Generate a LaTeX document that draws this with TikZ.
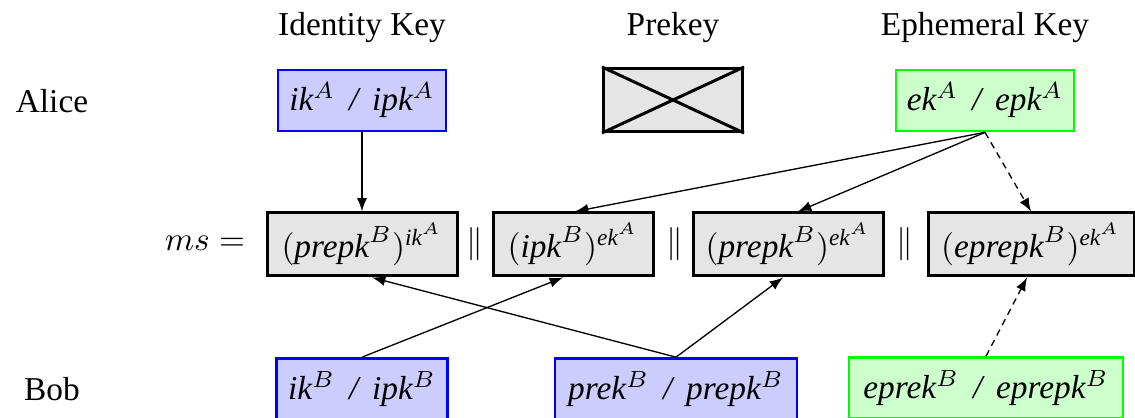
\documentclass[tikz,border=0pt]{standalone}
\usepackage{amsmath}
\usepackage{fontspec}
\setmainfont{Liberation Serif}
\usetikzlibrary{arrows}

\newcommand{\kv}[1]{\textit{#1}}
\newcommand{\sep}{~\,/~\,}

\begin{document}
\begin{tikzpicture}[x=0.3pt,y=-0.3pt,>=latex,
    idkey/.style={draw=blue,fill=blue!20,line width=0.8pt,minimum height=18.3pt,inner sep=2pt},
    ephkey/.style={draw=green,fill=green!20,line width=0.8pt,minimum height=18.3pt,inner sep=2pt},
    part/.style={draw=black,fill=gray!20,line width=0.9pt,minimum height=18.9pt,inner sep=2pt},
    nokey/.style={draw=black,fill=gray!20,line width=0.9pt,minimum height=18.9pt},
    link/.style={->,thin},
    maybe/.style={->,thin,dash pattern=on 2pt off 1.5pt}]

    \useasboundingbox (0,0) rectangle (1135,418);

    % column and row titles
    \node (hid) at (362,28) {Identity Key};
    \node (hpre) at (673,28) {Prekey};
    \node (heph) at (985,28) {Ephemeral Key};
    \node (alice) at (52,101) {Alice};
    \node (bob) at (52,389) {Bob};

    % Alice
    \node[idkey,minimum width=50.4pt] (ikA) at (362,100.5) {\textit{ik$^A$\sep ipk$^A$}};
    \node[nokey,minimum width=41.7pt] (preA) at (673,100) {};
    \draw[line width=0.9pt] (preA.north west) -- (preA.south east);
    \draw[line width=0.9pt] (preA.south west) -- (preA.north east);
    \node[ephkey,minimum width=53.4pt] (ekA) at (985,100.5) {\textit{ek$^A$\sep epk$^A$}};

    % master secret
    \node (ms) at (205,243) {$ms =$};
    \node[part,minimum width=57pt] (dh1) at (362,244.5) {$(\kv{prepk}^B)^{\kv{ik}^A}$};
    \node (cat1) at (475,244.5) {$\|$};
    \node[part,minimum width=48pt] (dh2) at (573,244.5) {$(\kv{ipk}^B)^{\kv{ek}^A}$};
    \node (cat2) at (675,244.5) {$\|$};
    \node[part,minimum width=57pt] (dh3) at (788,244.5) {$(\kv{prepk}^B)^{\kv{ek}^A}$};
    \node (cat3) at (905,244.5) {$\|$};
    \node[part,minimum width=61.8pt] (dh4) at (1031,244.5) {$(\kv{eprepk}^B)^{\kv{ek}^A}$};

    % Bob
    \node[idkey,minimum width=51.3pt] (ikB) at (362,389) {\textit{ik$^B$\sep ipk$^B$}};
    \node[idkey,minimum width=72.6pt] (prekB) at (676,389) {\textit{prek$^B$\sep prepk$^B$}};
    \node[ephkey,minimum width=82.2pt] (eprekB) at (986,388) {\textit{eprek$^B$\sep eprepk$^B$}};

    % who feeds which part
    \draw[link] (ikA) -- (dh1);
    \draw[link] (ekA.south) -- ([xshift=0.6pt]dh2.north);
    \draw[link] (ekA.south) -- ([xshift=3pt]dh3.north);
    \draw[maybe] (ekA.south) -- (dh4.north);
    \draw[link] (ikB.north) -- ([xshift=-3pt]dh2.south);
    \draw[link] (prekB.north) -- ([xshift=3pt]dh1.south);
    \draw[link] (prekB.north) -- ([xshift=-1.5pt]dh3.south);
    \draw[maybe] (eprekB.north) -- ([xshift=-1.2pt]dh4.south);
\end{tikzpicture}
\end{document}
